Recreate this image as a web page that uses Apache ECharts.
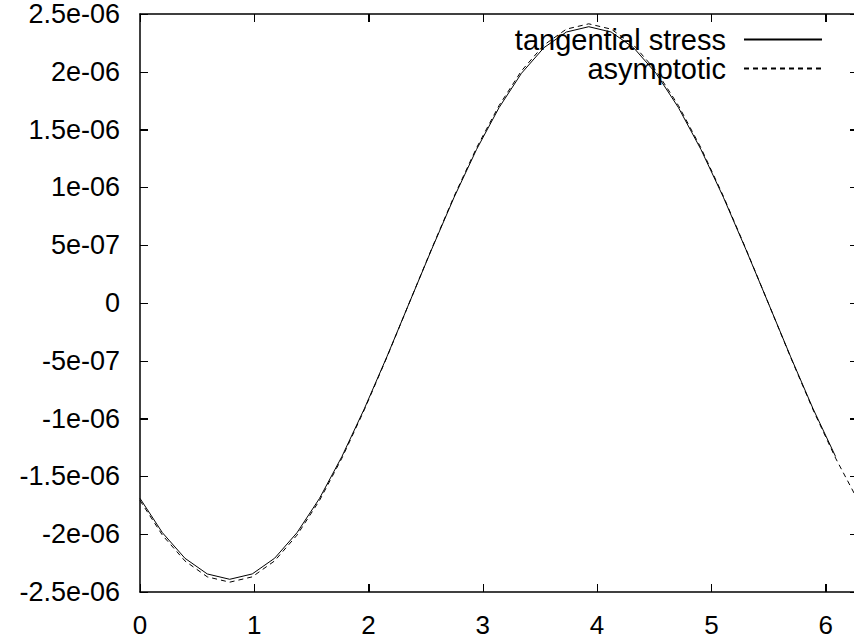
<!DOCTYPE html>
<html>
<head>
<meta charset="utf-8">
<script src="https://cdn.jsdelivr.net/npm/echarts@6/dist/echarts.min.js"></script>
<style>html,body{margin:0;padding:0;background:#fff}#c{width:854px;height:640px}</style>
</head>
<body>
<div id="c"></div>
<script>
// x positions (radians)
var xValues = [0, 0.196, 0.393, 0.589, 0.785, 0.982, 1.178, 1.374, 1.571, 1.767, 1.963, 2.160, 2.356, 2.553, 2.749, 2.945, 3.142, 3.338, 3.534, 3.731, 3.927, 4.123, 4.320, 4.516, 4.712, 4.909, 5.105, 5.301, 5.498, 5.694, 5.890, 6.087, 6.283];
// tangential stress (ends at last sample before 2*pi)
var stressValues = [-1.690e-6, -1.987e-6, -2.208e-6, -2.344e-6, -2.390e-6, -2.344e-6, -2.208e-6, -1.987e-6, -1.690e-6, -1.328e-6, -0.915e-6, -0.466e-6, 0, 0.466e-6, 0.915e-6, 1.328e-6, 1.690e-6, 1.987e-6, 2.208e-6, 2.344e-6, 2.390e-6, 2.344e-6, 2.208e-6, 1.987e-6, 1.690e-6, 1.328e-6, 0.915e-6, 0.466e-6, 0, -0.466e-6, -0.915e-6, -1.328e-6];
// asymptotic
var asymValues = [-1.708e-6, -2.008e-6, -2.231e-6, -2.369e-6, -2.415e-6, -2.369e-6, -2.231e-6, -2.008e-6, -1.708e-6, -1.342e-6, -0.924e-6, -0.471e-6, 0, 0.471e-6, 0.924e-6, 1.342e-6, 1.708e-6, 2.008e-6, 2.231e-6, 2.369e-6, 2.415e-6, 2.369e-6, 2.231e-6, 2.008e-6, 1.708e-6, 1.342e-6, 0.924e-6, 0.471e-6, 0, -0.471e-6, -0.924e-6, -1.342e-6, -1.708e-6];
var yTickValues = [-2.5e-6, -2e-6, -1.5e-6, -1e-6, -5e-7, 0, 5e-7, 1e-6, 1.5e-6, 2e-6, 2.5e-6];
var yTickLabels = ['-2.5e-06', '-2e-06', '-1.5e-06', '-1e-06', '-5e-07', '0', '5e-07', '1e-06', '1.5e-06', '2e-06', '2.5e-06'];
var xTickValues = [0, 1, 2, 3, 4, 5, 6];
var xTickLabels = ['0', '1', '2', '3', '4', '5', '6'];
var seriesNames = ['tangential stress', 'asymptotic'];

var FONT = 'Liberation Sans';
var X_MAX = 6.283185;
function pairs(xs, ys) { return ys.map(function (v, i) { return [xs[i], v]; }); }
var yMin = yTickValues[0], yMax = yTickValues[yTickValues.length - 1], yStep = 5e-7;
function yLab(v) { var i = Math.round((v - yMin) / yStep); return yTickLabels[i] !== undefined ? yTickLabels[i] : ''; }
function xLab(v) { var i = Math.round(v); return Math.abs(v - i) < 1e-6 && xTickLabels[i] !== undefined ? xTickLabels[i] : ''; }

function axisLine() { return { show: true, onZero: false, lineStyle: { color: '#000', width: 1.5 } }; }
function tick() { return { show: true, inside: true, length: 8, lineStyle: { color: '#000', width: 1 } }; }

// mirrored tick marks on all four frame sides, placed through the axes' scales
var tickData = xTickValues.map(function (v) { return [v, 0, 0]; })
  .concat(yTickValues.map(function (v) { return [0, v, 1]; }));
function renderTick(params, api) {
  var kind = api.value(2);
  var L = 8, a, b, lines;
  if (kind === 0) {
    var v = api.value(0);
    a = api.coord([v, yMin]); b = api.coord([v, yMax]);
    var x = Math.round(a[0]) + 0.5;
    lines = [[x, a[1], x, a[1] - L], [x, b[1], x, b[1] + L]];
  } else {
    var w = api.value(1);
    a = api.coord([0, w]); b = api.coord([X_MAX, w]);
    var y = Math.round(a[1]) + 0.5;
    lines = [[a[0], y, a[0] + L, y], [b[0], y, b[0] - L, y]];
  }
  return { type: 'group', children: lines.map(function (l) {
    return { type: 'line', shape: { x1: l[0], y1: l[1], x2: l[2], y2: l[3] }, style: { stroke: '#000', lineWidth: 1 }, silent: true };
  }) };
}

var chart = echarts.init(document.getElementById('c'), null, { renderer: 'svg' });
chart.setOption({
  animation: false,
  backgroundColor: '#fff',
  grid: { left: 140, right: -4, top: 14, bottom: 48, containLabel: false, outerBoundsMode: 'none' },
  legend: {
    data: seriesNames,
    orient: 'vertical',
    align: 'right',
    right: 31, top: 25,
    padding: 0,
    itemGap: 0,
    itemWidth: 78, itemHeight: 14,
    itemStyle: { opacity: 0 },
    textStyle: { fontFamily: FONT, fontSize: 29, color: '#000', padding: [0, 13, 0, 0], lineHeight: 28 }
  },
  xAxis: [{
    type: 'value', min: 0, max: X_MAX, interval: 1, position: 'bottom',
    axisLine: axisLine(), axisTick: tick(), splitLine: { show: false },
    axisLabel: { color: '#000', fontFamily: FONT, fontSize: 26, margin: 20, formatter: xLab, showMaxLabel: false }
  }, {
    type: 'value', min: 0, max: X_MAX, interval: 1, position: 'top',
    axisLine: axisLine(), axisTick: tick(), splitLine: { show: false }, axisLabel: { show: false }
  }],
  yAxis: [{
    type: 'value', min: yMin, max: yMax, interval: yStep, position: 'left',
    axisLine: axisLine(), axisTick: tick(), splitLine: { show: false },
    axisLabel: { color: '#000', fontFamily: FONT, fontSize: 27, margin: 20, formatter: yLab }
  }, {
    type: 'value', min: yMin, max: yMax, interval: yStep, position: 'right',
    axisLine: axisLine(), axisTick: tick(), splitLine: { show: false }, axisLabel: { show: false }
  }],
  series: [{
    name: seriesNames[0], type: 'line', data: pairs(xValues, stressValues),
    showSymbol: false, symbol: 'none', z: 3,
    lineStyle: { color: '#000', width: 1, type: 'solid' }, itemStyle: { color: '#000' }
  }, {
    name: seriesNames[1], type: 'line', data: pairs(xValues, asymValues),
    showSymbol: false, symbol: 'none', z: 2,
    lineStyle: { color: '#000', width: 1, type: [5, 4] }, itemStyle: { color: '#000' }
  }, {
    type: 'custom', name: 'ticks', data: tickData, renderItem: renderTick,
    silent: true, z: 4, clip: false, xAxisIndex: 0, yAxisIndex: 0
  }]
});
</script>
</body>
</html>
